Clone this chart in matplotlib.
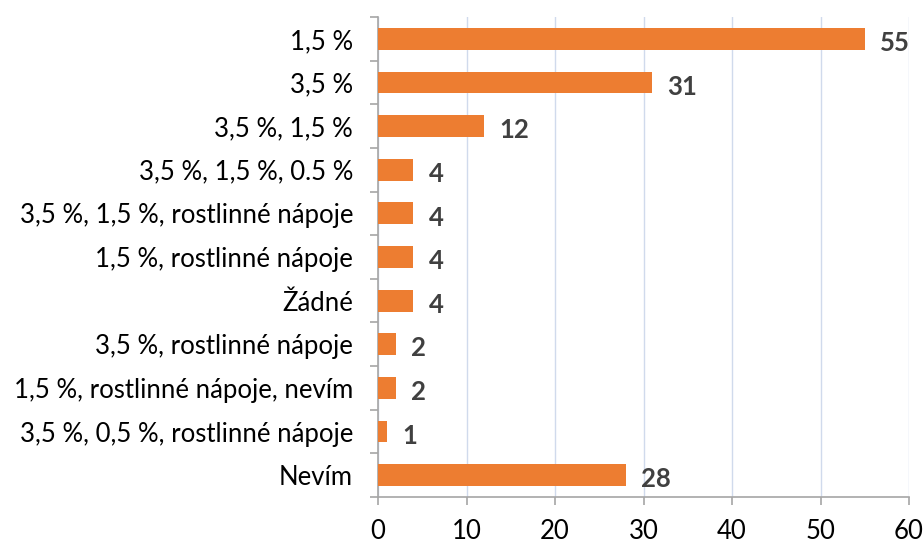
import matplotlib
matplotlib.use("Agg")
import matplotlib.pyplot as plt
import numpy as np

categories = [
    "1,5 %",
    "3,5 %",
    "3,5 %, 1,5 %",
    "3,5 %, 1,5 %, 0.5 %",
    "3,5 %, 1,5 %, rostlinné nápoje",
    "1,5 %, rostlinné nápoje",
    "Žádné",
    "3,5 %, rostlinné nápoje",
    "1,5 %, rostlinné nápoje, nevím",
    "3,5 %, 0,5 %, rostlinné nápoje",
    "Nevím",
]
values = [55, 31, 12, 4, 4, 4, 4, 2, 2, 1, 28]
x_ticks = [0, 10, 20, 30, 40, 50, 60]

plt.rcParams["font.family"] = ["Lato", "DejaVu Sans"]

fig = plt.figure(figsize=(9.23, 5.43), dpi=100)
ax = fig.add_axes([378 / 923, 46 / 543, 531 / 923, 480 / 543])

n = len(categories)
ypos = np.arange(n)
ax.barh(ypos, values, height=0.5, color="#ED7D31", zorder=3)

for y, v in zip(ypos, values):
    ax.annotate(str(v), xy=(v, y), xytext=(11, -3), textcoords="offset points",
                ha="left", va="center", fontsize=18.5, fontweight="bold",
                color="#404040")

ax.set_xlim(0, 60)
ax.set_ylim(n - 0.5, -0.5)
ax.set_xticks(x_ticks)
ax.set_xticklabels([str(t) for t in x_ticks], fontsize=18.5)
ax.set_yticks(ypos)
ax.set_yticklabels(categories, fontsize=18.5)
ax.set_yticks(np.arange(n + 1) - 0.5, minor=True)

ax.tick_params(axis="y", which="major", length=0, pad=18)
ax.tick_params(axis="y", which="minor", length=6, color="#A6A6A6", width=1.2,
               direction="out")
ax.tick_params(axis="x", which="major", length=6, color="#A6A6A6", width=1.2,
               direction="out", pad=10)

ax.grid(axis="x", color="#D0DAEC", linewidth=1.0, zorder=0)
for side in ("top", "right"):
    ax.spines[side].set_visible(False)
for side in ("left", "bottom"):
    ax.spines[side].set_color("#A6A6A6")
    ax.spines[side].set_linewidth(1.2)

fig.savefig("out.png", dpi=100)
